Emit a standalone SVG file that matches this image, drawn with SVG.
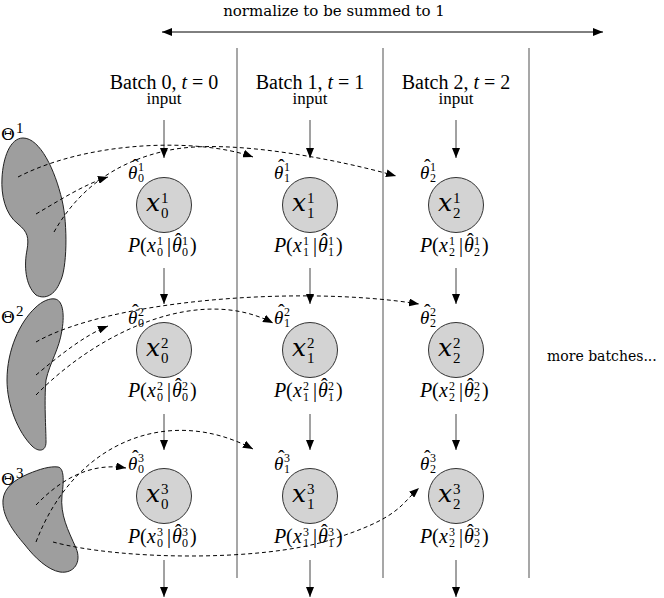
<svg xmlns="http://www.w3.org/2000/svg" width="664" height="598" viewBox="0 0 664 598">
<style>
text{font-family:"Liberation Serif","Times New Roman",serif;fill:#000}
.dv{font-family:"DejaVu Serif",serif}
.hd{font-size:20px}
.in{font-size:17px}
.it{font-style:italic}
.xb{font-family:"DejaVu Serif",serif;font-style:italic;font-size:25px}
.sb{font-family:"Liberation Serif",serif;font-size:15px;font-style:normal}
.th{font-style:italic;font-size:19px}
.ts{font-size:12px;font-style:normal}
.pl{font-size:20px}
.pd{font-size:12px;font-style:normal}
.hat{font-size:20px}
.nd{fill:#d3d3d3;stroke:#333;stroke-width:1}
.blob{fill:#9e9e9e;stroke:#222;stroke-width:1}
.sep{stroke:#8a8a8a;stroke-width:1.5}
.ar{stroke:#444;stroke-width:1;fill:none;marker-end:url(#ah)}
.ds{stroke:#000;stroke-width:1;fill:none;stroke-dasharray:4 3;marker-end:url(#ah)}
</style>
<defs>
<marker id="ah" viewBox="0 0 10 8" refX="10" refY="4" markerWidth="10" markerHeight="8" markerUnits="userSpaceOnUse" orient="auto-start-reverse">
<path d="M0,0 L10,4 L0,8 Z" fill="#000"/>
</marker>
</defs>
<rect width="664" height="598" fill="#fff"/>

<g id="title">
<text class="dv" x="334" y="16" text-anchor="middle" style="font-size:15px">normalize to be summed to 1</text>
</g>

<g id="columns">
<line class="sep" x1="237" y1="48" x2="237" y2="578"/>
<line class="sep" x1="383" y1="48" x2="383" y2="578"/>
<line class="sep" x1="529" y1="48" x2="529" y2="578"/>
</g>

<g id="headers">
<text class="hd" x="164" y="89" text-anchor="middle">Batch 0, <tspan class="it">t</tspan> = 0</text>
<text class="in" x="164" y="104" text-anchor="middle">input</text>
<text class="hd" x="310" y="89" text-anchor="middle">Batch 1, <tspan class="it">t</tspan> = 1</text>
<text class="in" x="310" y="104" text-anchor="middle">input</text>
<text class="hd" x="456" y="89" text-anchor="middle">Batch 2, <tspan class="it">t</tspan> = 2</text>
<text class="in" x="456" y="104" text-anchor="middle">input</text>
<text class="dv" x="547" y="361" style="font-size:14px">more batches...</text>
</g>

<g id="theta1">
<path class="blob" d="M23,138 C40,138 55,170 62,200 C68,225 67,270 60,282 C55,295 45,300 36,295 C25,285 24,265 27,250 C29,238 28,232 18,224 C5,214 1,195 2,178 C3,158 10,138 23,138 Z"/>
<text class="dv" x="1" y="140" style="font-size:17px">Θ<tspan class="sb" x="16" y="133">1</tspan></text>
</g>
<g id="theta2">
<path class="blob" d="M55,299 C62,300 65,312 62,330 C59,350 50,362 46,380 C44,400 46,430 46,442 C46,452 38,452 32,446 C18,432 7,405 7,380 C7,350 20,322 35,308 C42,301 50,298 55,299 Z"/>
<text class="dv" x="1" y="323" style="font-size:17px">Θ<tspan class="sb" x="16" y="316">2</tspan></text>
</g>
<g id="theta3">
<path class="blob" d="M58,467 C64,468 64,480 62,495 C60,515 68,530 76,548 C82,562 74,574 60,572 C48,570 35,558 25,545 C12,530 2,515 3,500 C4,488 14,480 28,474 C40,469 50,466 58,467 Z"/>
<text class="dv" x="1" y="485" style="font-size:17px">Θ<tspan class="sb" x="16" y="478">3</tspan></text>
</g>

<g id="connectors">
<line x1="162" y1="32" x2="603" y2="32" stroke="#000" stroke-width="1" marker-start="url(#ah)" marker-end="url(#ah)"/>
<line class="ar" x1="164" y1="120" x2="164" y2="158"/>
<line class="ar" x1="310" y1="120" x2="310" y2="158"/>
<line class="ar" x1="456" y1="120" x2="456" y2="158"/>
<line class="ar" x1="164" y1="268" x2="164" y2="304"/>
<line class="ar" x1="310" y1="268" x2="310" y2="304"/>
<line class="ar" x1="456" y1="268" x2="456" y2="304"/>
<line class="ar" x1="164" y1="414" x2="164" y2="450"/>
<line class="ar" x1="310" y1="414" x2="310" y2="450"/>
<line class="ar" x1="456" y1="414" x2="456" y2="450"/>
<line class="ar" x1="164" y1="560" x2="164" y2="597"/>
<line class="ar" x1="310" y1="560" x2="310" y2="597"/>
<line class="ar" x1="456" y1="560" x2="456" y2="597"/>
<path class="ds" d="M18,177 C90,140 200,138 253,157"/>
<path class="ds" d="M36,214 C60,200 85,184 108,177"/>
<path class="ds" d="M54,232 C75,195 110,162 170,150 S340,160 396,176"/>
<path class="ds" d="M36,342 C110,300 300,285 419,304"/>
<path class="ds" d="M36,375 C60,355 85,335 108,326"/>
<path class="ds" d="M36,395 C100,330 200,285 273,323"/>
<path class="ds" d="M36,505 C60,480 90,462 126,468"/>
<path class="ds" d="M36,542 C75,440 170,405 253,449"/>
<path class="ds" d="M53,542 C120,560 260,562 330,540 S400,505 419,488"/>
</g>

<g id="n0-1" transform="translate(164,205)">
<circle class="nd" r="27.5"/>
<text class="xb" x="-18" y="6">x<tspan class="sb" x="-3" y="-2">1</tspan><tspan class="sb" x="-3" y="13">0</tspan></text>
<text class="th" x="-36" y="-26">θ<tspan class="ts" x="-26" y="-34">1</tspan><tspan class="ts" x="-26" y="-23">0</tspan></text><text class="hat" x="-32" y="-31">ˆ</text>
<text class="pl" y="47"><tspan class="it" x="-36">P</tspan><tspan x="-24">(</tspan><tspan class="it" x="-17">x</tspan><tspan class="pd" x="-7" y="40">1</tspan><tspan class="pd" x="-7" y="51">0</tspan><tspan x="3" y="47">|</tspan><tspan class="it" x="8">θ</tspan><tspan class="pd" x="18" y="40">1</tspan><tspan class="pd" x="18" y="51">0</tspan><tspan x="26" y="47">)</tspan></text>
<text class="hat" x="11" y="43">ˆ</text>
</g>
<g id="n1-1" transform="translate(310,205)">
<circle class="nd" r="27.5"/>
<text class="xb" x="-18" y="6">x<tspan class="sb" x="-3" y="-2">1</tspan><tspan class="sb" x="-3" y="13">1</tspan></text>
<text class="th" x="-36" y="-26">θ<tspan class="ts" x="-26" y="-34">1</tspan><tspan class="ts" x="-26" y="-23">1</tspan></text><text class="hat" x="-32" y="-31">ˆ</text>
<text class="pl" y="47"><tspan class="it" x="-36">P</tspan><tspan x="-24">(</tspan><tspan class="it" x="-17">x</tspan><tspan class="pd" x="-7" y="40">1</tspan><tspan class="pd" x="-7" y="51">1</tspan><tspan x="3" y="47">|</tspan><tspan class="it" x="8">θ</tspan><tspan class="pd" x="18" y="40">1</tspan><tspan class="pd" x="18" y="51">1</tspan><tspan x="26" y="47">)</tspan></text>
<text class="hat" x="11" y="43">ˆ</text>
</g>
<g id="n2-1" transform="translate(456,205)">
<circle class="nd" r="27.5"/>
<text class="xb" x="-18" y="6">x<tspan class="sb" x="-3" y="-2">1</tspan><tspan class="sb" x="-3" y="13">2</tspan></text>
<text class="th" x="-36" y="-26">θ<tspan class="ts" x="-26" y="-34">1</tspan><tspan class="ts" x="-26" y="-23">2</tspan></text><text class="hat" x="-32" y="-31">ˆ</text>
<text class="pl" y="47"><tspan class="it" x="-36">P</tspan><tspan x="-24">(</tspan><tspan class="it" x="-17">x</tspan><tspan class="pd" x="-7" y="40">1</tspan><tspan class="pd" x="-7" y="51">2</tspan><tspan x="3" y="47">|</tspan><tspan class="it" x="8">θ</tspan><tspan class="pd" x="18" y="40">1</tspan><tspan class="pd" x="18" y="51">2</tspan><tspan x="26" y="47">)</tspan></text>
<text class="hat" x="11" y="43">ˆ</text>
</g>

<g id="n0-2" transform="translate(164,350)">
<circle class="nd" r="27.5"/>
<text class="xb" x="-18" y="6">x<tspan class="sb" x="-3" y="-2">2</tspan><tspan class="sb" x="-3" y="13">0</tspan></text>
<text class="th" x="-36" y="-26">θ<tspan class="ts" x="-26" y="-34">2</tspan><tspan class="ts" x="-26" y="-23">0</tspan></text><text class="hat" x="-32" y="-31">ˆ</text>
<text class="pl" y="47"><tspan class="it" x="-36">P</tspan><tspan x="-24">(</tspan><tspan class="it" x="-17">x</tspan><tspan class="pd" x="-7" y="40">2</tspan><tspan class="pd" x="-7" y="51">0</tspan><tspan x="3" y="47">|</tspan><tspan class="it" x="8">θ</tspan><tspan class="pd" x="18" y="40">2</tspan><tspan class="pd" x="18" y="51">0</tspan><tspan x="26" y="47">)</tspan></text>
<text class="hat" x="11" y="43">ˆ</text>
</g>
<g id="n1-2" transform="translate(310,350)">
<circle class="nd" r="27.5"/>
<text class="xb" x="-18" y="6">x<tspan class="sb" x="-3" y="-2">2</tspan><tspan class="sb" x="-3" y="13">1</tspan></text>
<text class="th" x="-36" y="-26">θ<tspan class="ts" x="-26" y="-34">2</tspan><tspan class="ts" x="-26" y="-23">1</tspan></text><text class="hat" x="-32" y="-31">ˆ</text>
<text class="pl" y="47"><tspan class="it" x="-36">P</tspan><tspan x="-24">(</tspan><tspan class="it" x="-17">x</tspan><tspan class="pd" x="-7" y="40">2</tspan><tspan class="pd" x="-7" y="51">1</tspan><tspan x="3" y="47">|</tspan><tspan class="it" x="8">θ</tspan><tspan class="pd" x="18" y="40">2</tspan><tspan class="pd" x="18" y="51">1</tspan><tspan x="26" y="47">)</tspan></text>
<text class="hat" x="11" y="43">ˆ</text>
</g>
<g id="n2-2" transform="translate(456,350)">
<circle class="nd" r="27.5"/>
<text class="xb" x="-18" y="6">x<tspan class="sb" x="-3" y="-2">2</tspan><tspan class="sb" x="-3" y="13">2</tspan></text>
<text class="th" x="-36" y="-26">θ<tspan class="ts" x="-26" y="-34">2</tspan><tspan class="ts" x="-26" y="-23">2</tspan></text><text class="hat" x="-32" y="-31">ˆ</text>
<text class="pl" y="47"><tspan class="it" x="-36">P</tspan><tspan x="-24">(</tspan><tspan class="it" x="-17">x</tspan><tspan class="pd" x="-7" y="40">2</tspan><tspan class="pd" x="-7" y="51">2</tspan><tspan x="3" y="47">|</tspan><tspan class="it" x="8">θ</tspan><tspan class="pd" x="18" y="40">2</tspan><tspan class="pd" x="18" y="51">2</tspan><tspan x="26" y="47">)</tspan></text>
<text class="hat" x="11" y="43">ˆ</text>
</g>

<g id="n0-3" transform="translate(164,496)">
<circle class="nd" r="27.5"/>
<text class="xb" x="-18" y="6">x<tspan class="sb" x="-3" y="-2">3</tspan><tspan class="sb" x="-3" y="13">0</tspan></text>
<text class="th" x="-36" y="-26">θ<tspan class="ts" x="-26" y="-34">3</tspan><tspan class="ts" x="-26" y="-23">0</tspan></text><text class="hat" x="-32" y="-31">ˆ</text>
<text class="pl" y="47"><tspan class="it" x="-36">P</tspan><tspan x="-24">(</tspan><tspan class="it" x="-17">x</tspan><tspan class="pd" x="-7" y="40">3</tspan><tspan class="pd" x="-7" y="51">0</tspan><tspan x="3" y="47">|</tspan><tspan class="it" x="8">θ</tspan><tspan class="pd" x="18" y="40">3</tspan><tspan class="pd" x="18" y="51">0</tspan><tspan x="26" y="47">)</tspan></text>
<text class="hat" x="11" y="43">ˆ</text>
</g>
<g id="n1-3" transform="translate(310,496)">
<circle class="nd" r="27.5"/>
<text class="xb" x="-18" y="6">x<tspan class="sb" x="-3" y="-2">3</tspan><tspan class="sb" x="-3" y="13">1</tspan></text>
<text class="th" x="-36" y="-26">θ<tspan class="ts" x="-26" y="-34">3</tspan><tspan class="ts" x="-26" y="-23">1</tspan></text><text class="hat" x="-32" y="-31">ˆ</text>
<text class="pl" y="47"><tspan class="it" x="-36">P</tspan><tspan x="-24">(</tspan><tspan class="it" x="-17">x</tspan><tspan class="pd" x="-7" y="40">3</tspan><tspan class="pd" x="-7" y="51">1</tspan><tspan x="3" y="47">|</tspan><tspan class="it" x="8">θ</tspan><tspan class="pd" x="18" y="40">3</tspan><tspan class="pd" x="18" y="51">1</tspan><tspan x="26" y="47">)</tspan></text>
<text class="hat" x="11" y="43">ˆ</text>
</g>
<g id="n2-3" transform="translate(456,496)">
<circle class="nd" r="27.5"/>
<text class="xb" x="-18" y="6">x<tspan class="sb" x="-3" y="-2">3</tspan><tspan class="sb" x="-3" y="13">2</tspan></text>
<text class="th" x="-36" y="-26">θ<tspan class="ts" x="-26" y="-34">3</tspan><tspan class="ts" x="-26" y="-23">2</tspan></text><text class="hat" x="-32" y="-31">ˆ</text>
<text class="pl" y="47"><tspan class="it" x="-36">P</tspan><tspan x="-24">(</tspan><tspan class="it" x="-17">x</tspan><tspan class="pd" x="-7" y="40">3</tspan><tspan class="pd" x="-7" y="51">2</tspan><tspan x="3" y="47">|</tspan><tspan class="it" x="8">θ</tspan><tspan class="pd" x="18" y="40">3</tspan><tspan class="pd" x="18" y="51">2</tspan><tspan x="26" y="47">)</tspan></text>
<text class="hat" x="11" y="43">ˆ</text>
</g>
</svg>
